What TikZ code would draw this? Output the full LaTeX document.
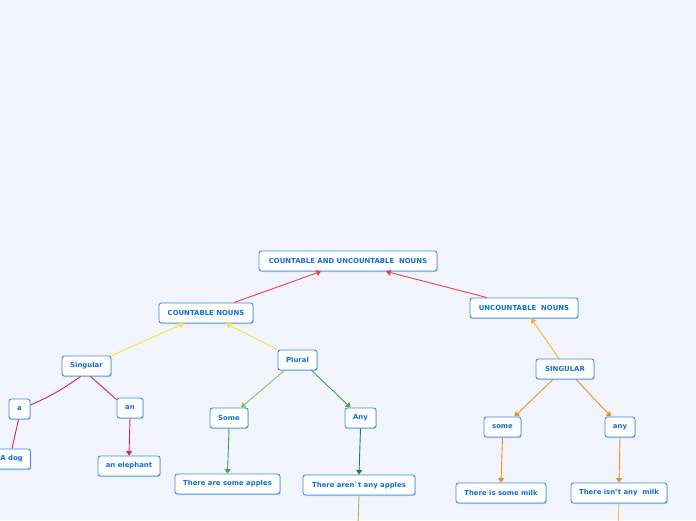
\documentclass[tikz,border=0pt]{standalone}
\usepackage{fontspec}
\setmainfont{DejaVu Sans}
\usetikzlibrary{arrows.meta,shadows}
\definecolor{bg}{RGB}{242,245,253}
\definecolor{txt}{RGB}{20,110,210}
\definecolor{bord}{RGB}{60,140,230}
\definecolor{cred}{RGB}{242,60,72}
\definecolor{cyel}{RGB}{245,228,40}
\definecolor{cyor}{RGB}{245,180,40}
\definecolor{ccrim}{RGB}{220,30,95}
\definecolor{clgr}{RGB}{140,195,74}
\definecolor{cgr}{RGB}{67,160,71}
\definecolor{cdgr}{RGB}{35,125,80}
\definecolor{corg}{RGB}{240,140,40}
\definecolor{cyo2}{RGB}{245,195,60}
\tikzset{
  box/.style={draw=bord, line width=0.9pt, fill=white, rounded corners=2.5pt,
    text=txt, font=\fontsize{6.9}{8}\selectfont\bfseries, minimum height=20pt,
    inner xsep=2pt, inner ysep=0pt,
    drop shadow={shadow xshift=0.7pt, shadow yshift=-1pt, fill=bord!60, opacity=0.7}},
  con/.style={line width=0.9pt},
  arr/.style={con, -{Triangle[length=4.5pt,width=6pt]}},
}
\begin{document}
\begin{tikzpicture}[x=1pt,y=-1pt]
\fill[bg] (0,0) rectangle (696,520);
\clip (0,0) rectangle (696,520);
\node[box, minimum width=178pt] (root) at (348,261) {COUNTABLE AND UNCOUNTABLE\ \ NOUNS};
\node[box, minimum width=94pt] (cn) at (206,313) {COUNTABLE NOUNS};
\node[box, minimum width=108pt] (un) at (524,308) {UNCOUNTABLE\ \ NOUNS};
\node[box, minimum width=49pt] (sg) at (86.5,366) {Singular};
\node[box, minimum width=39pt] (pl) at (297.5,360) {Plural};
\node[box, minimum width=58pt] (SG) at (565,369) {SINGULAR};
\node[box, minimum width=21pt] (a) at (19.5,409) {a};
\node[box, minimum width=26pt] (an) at (130,408) {an};
\node[box, minimum width=38pt] (dog) at (11.5,459) {A dog};
\node[box, minimum width=62pt] (el) at (129,466) {an elephant};
\node[box, minimum width=38pt] (some) at (229,418) {Some};
\node[box, minimum width=31pt] (any) at (360.5,418) {Any};
\node[box, minimum width=105pt] (apl) at (227.5,484) {There are some apples};
\node[box, minimum width=112pt] (napl) at (359,485) {There aren\textasciigrave t any apples};
\node[box, minimum width=37pt] (usome) at (502.5,427) {some};
\node[box, minimum width=30pt] (uany) at (620,427) {any};
\node[box, minimum width=90pt] (milk) at (501,493) {There is some milk};
\node[box, minimum width=96pt] (nmilk) at (619,493) {There isn't any\ \ milk};
\coordinate (e1) at (358,525);
\coordinate (e2) at (618,525);
% connectors
\draw[arr, cred] ([xshift=28pt]cn.north) -- ([xshift=-27pt]root.south);
\draw[arr, cred] ([xshift=-37pt]un.north) -- ([xshift=38pt]root.south);
\draw[arr, cyel] (sg.north east) -- ([xshift=-22pt]cn.south);
\draw[arr, cyel] (pl.north west) -- ([xshift=20pt]cn.south);
\draw[arr, cyor] ([xshift=-6pt]SG.north) -- ([xshift=7pt]un.south);
\draw[con, ccrim] ([xshift=-6pt]sg.south) to[bend left=6] ([yshift=4pt]a.east);
\draw[con, ccrim] ([xshift=4pt]sg.south) -- ([yshift=-2pt]an.north west);
\draw[con, ccrim] ([xshift=-1pt]a.south) -- ([xshift=0.5pt]dog.north);
\draw[arr, ccrim] (an.south) -- (el.north);
\draw[arr, clgr] ([xshift=-13pt]pl.south) -- ([xshift=12pt]some.north);
\draw[arr, cgr] ([xshift=14pt]pl.south) -- ([xshift=-10pt]any.north);
\draw[arr, cgr] (some.south) -- (apl.north);
\draw[arr, cdgr] (any.south) -- (napl.north);
\draw[con, clgr] (napl.south) -- (e1);
\draw[arr, corg] ([xshift=-12pt]SG.south) -- ([xshift=12pt]usome.north);
\draw[arr, corg] ([xshift=11pt]SG.south) -- ([xshift=-9pt]uany.north);
\draw[arr, corg] (usome.south) -- (milk.north);
\draw[arr, corg] (uany.south) -- (nmilk.north);
\draw[con, cyo2] (nmilk.south) -- (e2);
\end{tikzpicture}
\end{document}
